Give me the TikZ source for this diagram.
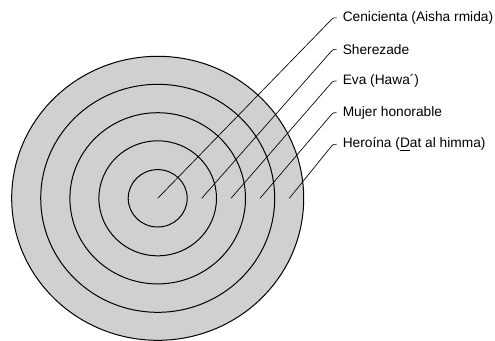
\documentclass[tikz,border=0pt]{standalone}
\usepackage{fontspec}
\setmainfont{Liberation Sans}
\usetikzlibrary{calc}
\definecolor{ringgray}{RGB}{208,208,208}
\begin{document}
\begin{tikzpicture}[x=0.75pt,y=-0.75pt,
  ring/.style={draw=black,line width=0.75pt,fill=ringgray},
  leader/.style={draw=black,line width=0.5pt},
  lbl/.style={anchor=west,inner sep=0pt,font=\fontsize{10.3}{12}\selectfont}]
\useasboundingbox (0,0) rectangle (495,340);
\coordinate (c) at (157.7,198.3);
\draw[ring] (c) ellipse [x radius=146, y radius=142];
\draw[ring] (c) ellipse [x radius=117, y radius=114];
\draw[ring] (c) ellipse [x radius=87.8, y radius=85.6];
\draw[ring] (c) ellipse [x radius=58.8, y radius=57.5];
\draw[ring] (c) ellipse [x radius=29.5, y radius=28.7];
% labels
\node[lbl] (l1) at (342.5,17.8) {Cenicienta (Aisha rmida)};
\node[lbl] (l2) at (342.5,49.3) {Sherezade};
\node[lbl] (l3) at (342.5,81.0) {Eva (Hawa´)};
\node[lbl] (l4) at (342.5,112.7) {Mujer honorable};
\node[lbl] (l5) at (342.5,144.3) {Heroína (\underline{D}at al himma)};
% start points
\coordinate (s1) at (157.7,198.3);
\coordinate (s2) at (201.7,198.3);
\coordinate (s3) at (231.0,198.3);
\coordinate (s4) at (260.0,198.3);
\coordinate (s5) at (289.3,198.3);
\foreach \i in {1,...,5}{
  \draw[leader] (s\i) -- ($(l\i.west)+(-10.5,1.2)$) to[out=45,in=180] ($(l\i.west)+(-6,0)$);
}
\end{tikzpicture}
\end{document}
